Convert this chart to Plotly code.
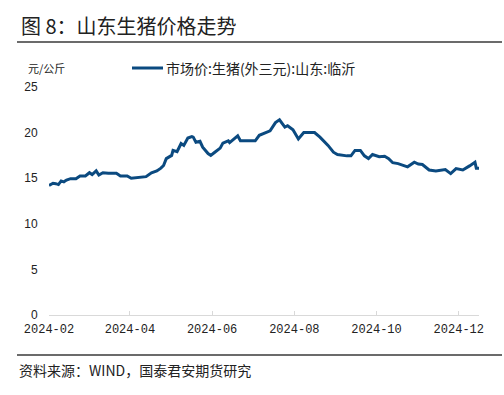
import plotly.graph_objects as go

dates = ["2024-02-01","2024-02-04","2024-02-06","2024-02-08","2024-02-10","2024-02-12","2024-02-14","2024-02-17",
         "2024-02-21","2024-02-24","2024-02-28","2024-03-02","2024-03-04","2024-03-07","2024-03-09","2024-03-12",
         "2024-03-16","2024-03-22","2024-03-25","2024-03-30","2024-04-02","2024-04-08","2024-04-13","2024-04-17",
         "2024-04-21","2024-04-24","2024-04-26","2024-04-28","2024-05-02","2024-05-03","2024-05-06","2024-05-09",
         "2024-05-11","2024-05-14","2024-05-17","2024-05-18","2024-05-20","2024-05-23","2024-05-25","2024-05-29",
         "2024-05-31","2024-06-03","2024-06-07","2024-06-09","2024-06-13","2024-06-14","2024-06-17","2024-06-20",
         "2024-06-22","2024-06-25","2024-07-03","2024-07-06","2024-07-10","2024-07-14","2024-07-18","2024-07-21",
         "2024-07-25","2024-07-27","2024-07-31","2024-08-04","2024-08-08","2024-08-16","2024-08-20","2024-08-26",
         "2024-08-30","2024-09-02","2024-09-09","2024-09-12","2024-09-15","2024-09-19","2024-09-22","2024-09-25",
         "2024-09-28","2024-10-03","2024-10-07","2024-10-10","2024-10-13","2024-10-17","2024-10-24","2024-10-29",
         "2024-11-01","2024-11-04","2024-11-09","2024-11-14","2024-11-21","2024-11-23","2024-11-25","2024-11-29",
         "2024-12-04","2024-12-09","2024-12-13","2024-12-14","2024-12-16"]
prices = [14.2,14.45,14.4,14.3,14.7,14.6,14.8,14.95,
          14.95,15.25,15.25,15.6,15.4,15.8,15.35,15.6,
          15.55,15.54,15.25,15.25,15.0,15.1,15.17,15.6,
          15.8,16.1,16.4,17.15,17.5,18.05,17.9,18.8,
          18.6,19.4,19.55,19.5,18.95,19.05,18.4,17.7,
          17.5,17.85,18.3,18.85,19.1,18.9,19.3,19.65,
          19.1,19.1,19.1,19.7,19.95,20.2,21.1,21.4,
          20.6,20.75,20.3,19.3,20.0,20.0,19.5,18.6,
          17.85,17.6,17.45,17.45,18.05,18.05,17.45,17.15,
          17.6,17.35,17.4,17.15,16.7,16.6,16.25,16.75,
          16.55,16.5,15.9,15.8,15.95,15.75,15.5,16.05,
          15.9,16.35,16.75,16.1,16.1]
series_name = "市场价:生猪(外三元):山东:临沂"
unit_label = "元/公斤"
title_text = "图 8：山东生猪价格走势"
source_text = "资料来源：WIND，国泰君安期货研究"

LINE_COLOR = "#0b4a80"
fig = go.Figure()
fig.add_trace(go.Scatter(x=dates, y=prices, mode="lines", name=series_name,
                         line=dict(color=LINE_COLOR, width=3)))

W, H = 504, 395
L, R, T, B = 49, 25, 87, 80
pw, ph = W - L - R, H - T - B
def px(x): return (x - L) / pw
def py(y): return (H - B - y) / ph

cjk = "Noto Sans CJK SC"
fig.update_layout(
    width=W, height=H, margin=dict(l=L, r=R, t=T, b=B, autoexpand=False),
    paper_bgcolor="white", plot_bgcolor="white",
    showlegend=False,
    xaxis=dict(type="date", range=[dates[0], dates[-1]], tick0="2024-02-01", dtick="M2",
               tickformat="%Y-%m", showgrid=False, zeroline=False, showline=True, automargin=False,
               linecolor="#d9d9d9", linewidth=1, ticks="inside", ticklen=4, tickcolor="#d9d9d9",
               ticklabelstandoff=3,
               tickfont=dict(family="Liberation Mono", size=12, color="#222")),
    yaxis=dict(range=[0, 25], dtick=5, showgrid=False, zeroline=False, showline=False, automargin=False,
               ticks="outside", ticklen=8, tickcolor="rgba(0,0,0,0)",
               tickfont=dict(family="Liberation Sans", size=12, color="#222")),
    annotations=[
        dict(text=title_text, xref="paper", yref="paper", x=px(19), y=py(26), xanchor="left",
             yanchor="middle", showarrow=False, font=dict(family=cjk, size=20, color="#222")),
        dict(text=unit_label, xref="paper", yref="paper", x=px(26), y=py(68), xanchor="left",
             yanchor="middle", showarrow=False, font=dict(family=cjk, size=11, color="#222")),
        dict(text=series_name, xref="paper", yref="paper", x=px(164), y=py(68), xanchor="left",
             yanchor="middle", showarrow=False, font=dict(family=cjk, size=14, color="#222")),
        dict(text=source_text, xref="paper", yref="paper", x=px(17), y=py(370), xanchor="left",
             yanchor="middle", showarrow=False, font=dict(family=cjk, size=14, color="#222")),
    ],
    shapes=[
        dict(type="line", xref="paper", yref="paper", x0=px(132), x1=px(163), y0=py(68), y1=py(68),
             line=dict(color=LINE_COLOR, width=3)),
        dict(type="line", xref="paper", yref="paper", x0=px(17), x1=px(502), y0=py(42), y1=py(42),
             line=dict(color="#6b6b6b", width=2)),
        dict(type="line", xref="paper", yref="paper", x0=px(17), x1=px(502), y0=py(355), y1=py(355),
             line=dict(color="#6b6b6b", width=2)),
    ],
)
fig.write_html("out.html", config={"displayModeBar": False},
               post_script="document.body.style.margin='0';document.body.style.overflow='hidden';")
